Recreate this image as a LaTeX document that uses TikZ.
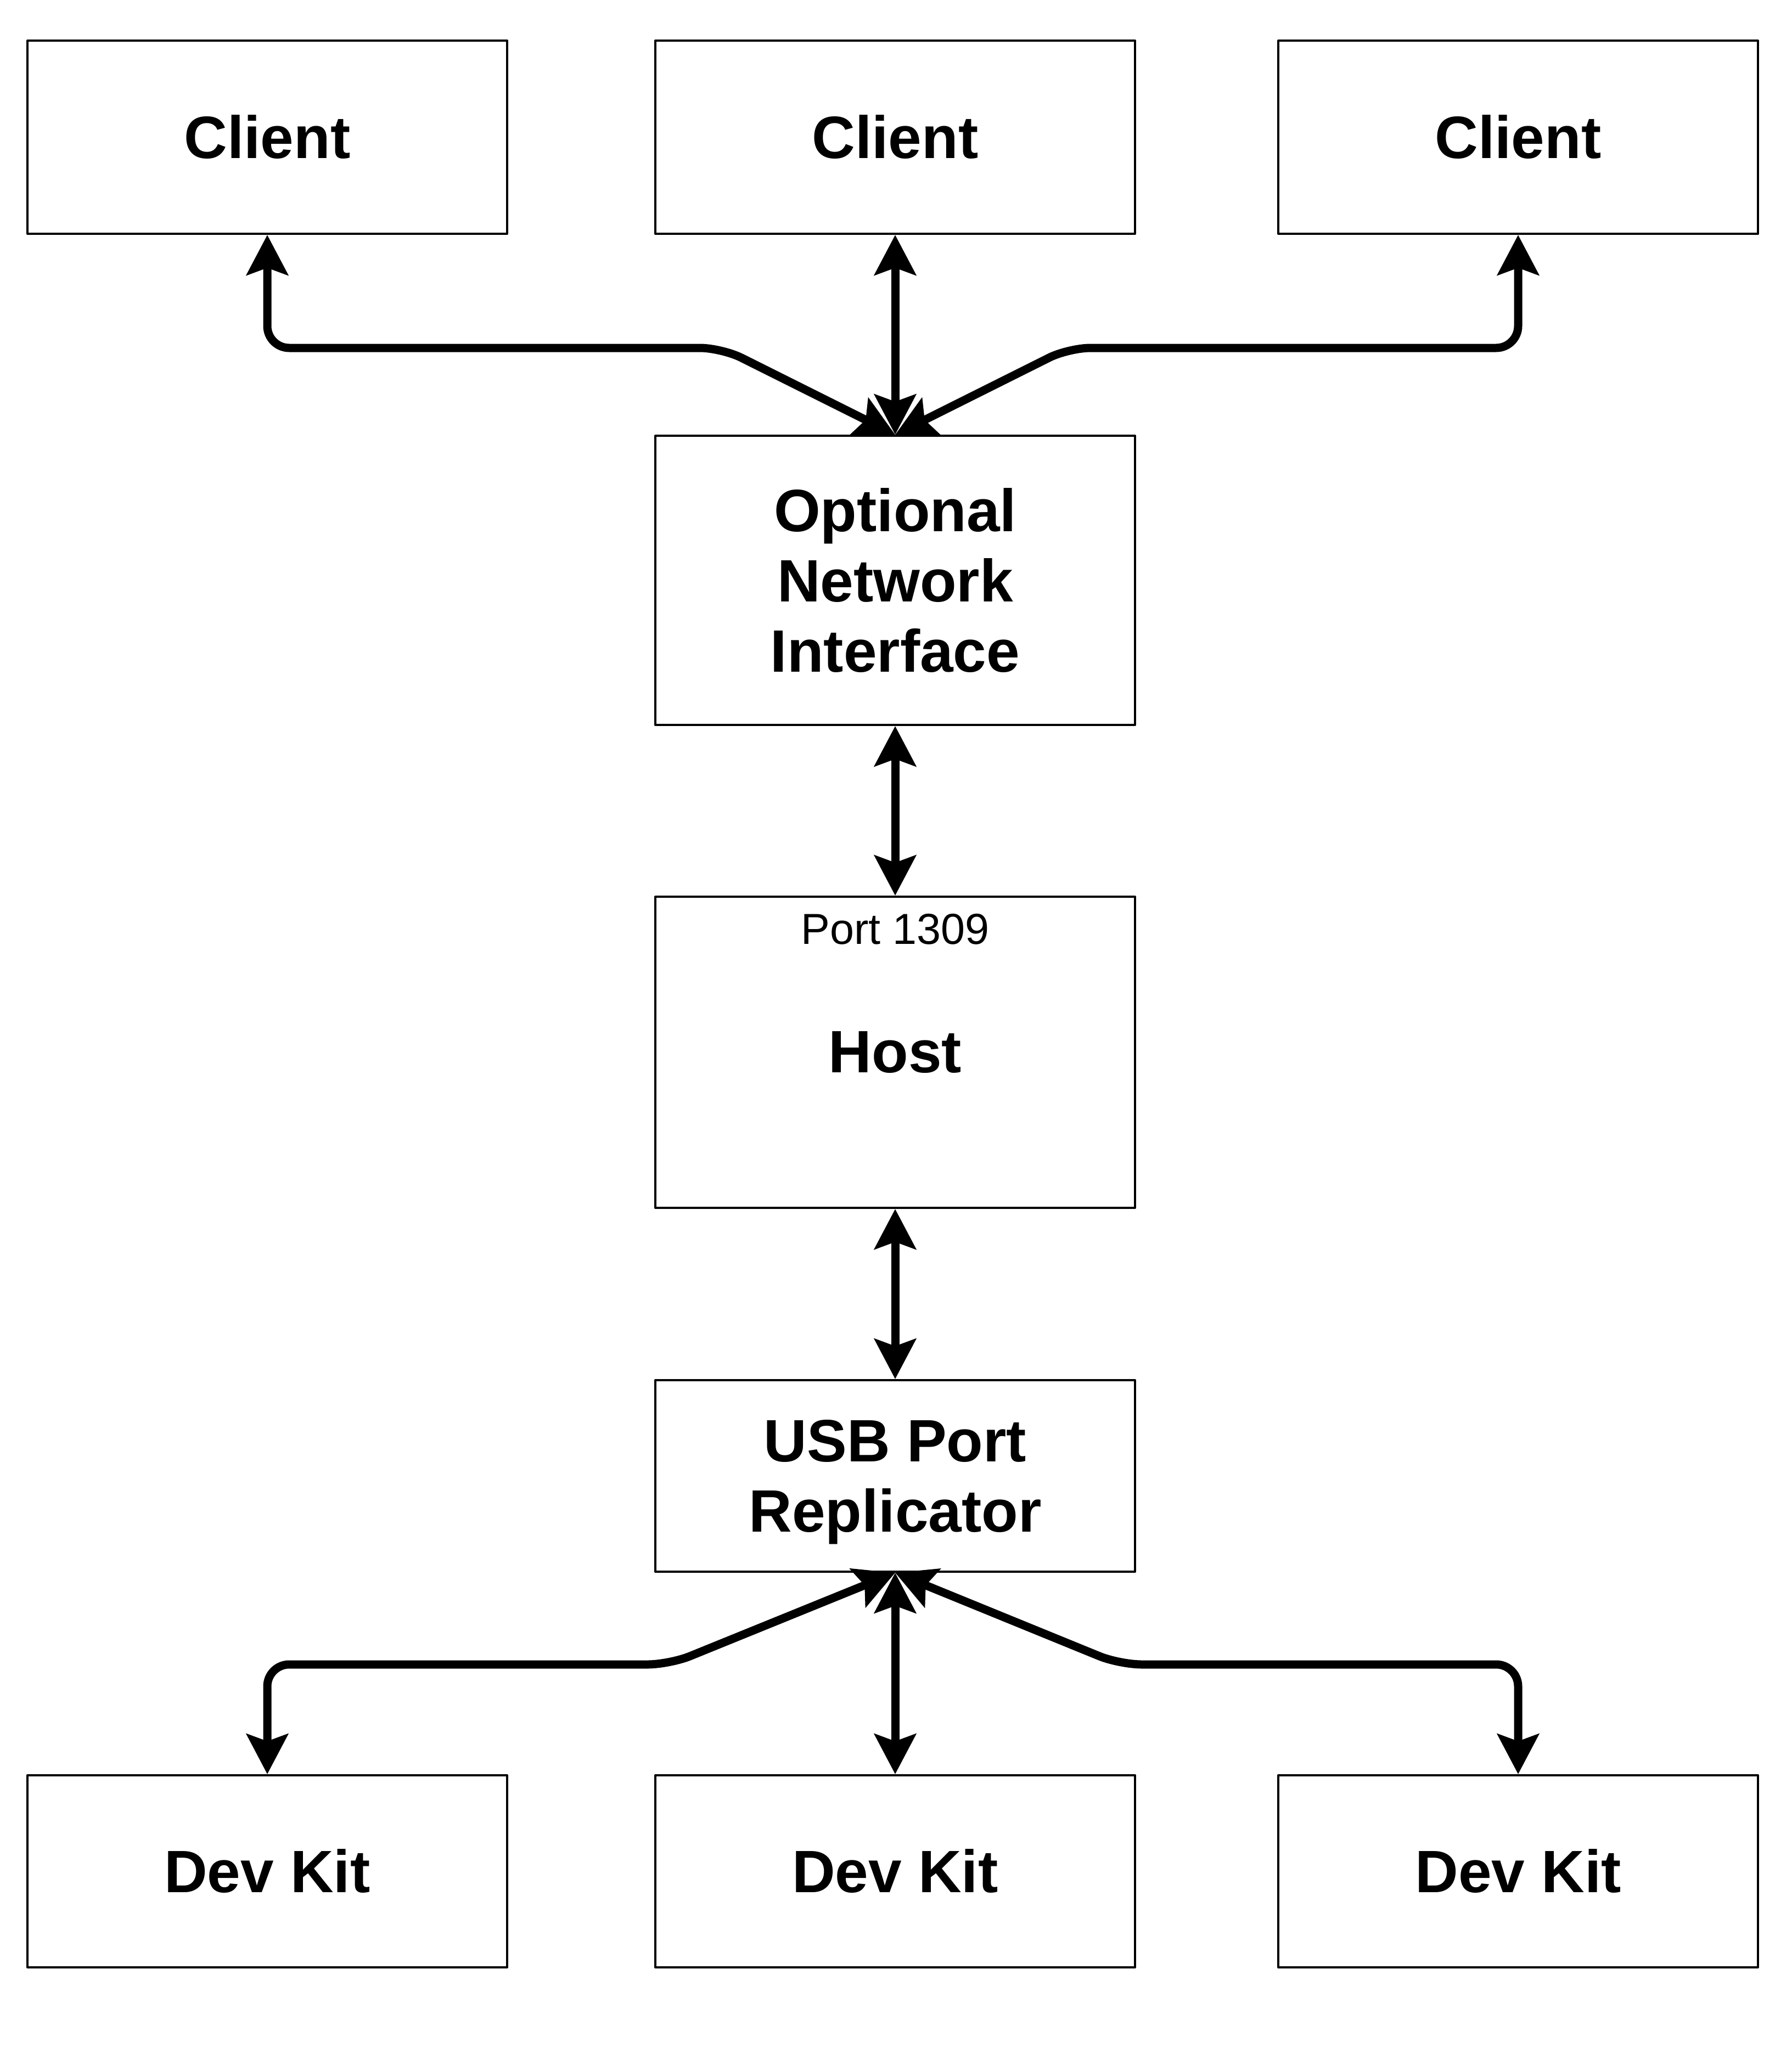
\documentclass[tikz,border=0pt]{standalone}
\usepackage{fontspec}
\setmainfont{Liberation Sans}
\usetikzlibrary{arrows.meta}
\newcommand{\boxfont}{\fontsize{31}{36.5}\selectfont\bfseries}
\newcommand{\portfont}{\fontsize{22.5}{27}\selectfont}

\begin{document}
\begin{tikzpicture}[line cap=round,line join=round,>={Stealth[length=0.73cm,width=0.75cm,inset=0.13cm]},x=1cm,y=1cm,
		unit/.style={draw,line width=0.04cm,minimum width=8.74cm,align=center,font=\boxfont,inner sep=0pt},
		link/.style={<->,line width=0.15cm,rounded corners=0.4cm}]
		\useasboundingbox (0,0) rectangle (32.64,-37.52);
		\node [unit,minimum height=3.52cm] (clientA) at (4.87,-2.50) {Client};
		\node [unit,minimum height=3.52cm] (clientB) at (16.31,-2.50) {Client};
		\node [unit,minimum height=3.52cm] (clientC) at (27.66,-2.50) {Client};
		\node [unit,minimum height=5.27cm] (oni) at (16.31,-10.575) {Optional\\Network\\Interface};
		\node [unit,minimum height=5.67cm] (host) at (16.31,-19.175) {Host};
		\node [anchor=north,inner sep=0pt,font=\portfont] (port) at ([yshift=-0.33cm]host.north) {Port 1309};
		\node [unit,minimum height=3.49cm,text depth=0pt] (usb) at (16.31,-26.895) {USB Port\\Replicator};
		\node [unit,minimum height=3.50cm] (kitA) at (4.87,-34.10) {Dev Kit};
		\node [unit,minimum height=3.50cm] (kitB) at (16.31,-34.10) {Dev Kit};
		\node [unit,minimum height=3.50cm] (kitC) at (27.66,-34.10) {Dev Kit};
		\draw [link] (oni.north) -- (13.15,-6.34) -| (clientA.south);
		\draw [link] (oni.north) -- (clientB.south);
		\draw [link] (oni.north) -- (19.47,-6.34) -| (clientC.south);
		\draw [link] (host.north) -- (oni.south);
		\draw [link] (usb.north) -- (host.south);
		\draw [link] (usb.south) -- (12.20,-30.33) -| (kitA.north);
		\draw [link] (usb.south) -- (kitB.north);
		\draw [link] (usb.south) -- (20.40,-30.33) -| (kitC.north);
	\end{tikzpicture}
\end{document}
